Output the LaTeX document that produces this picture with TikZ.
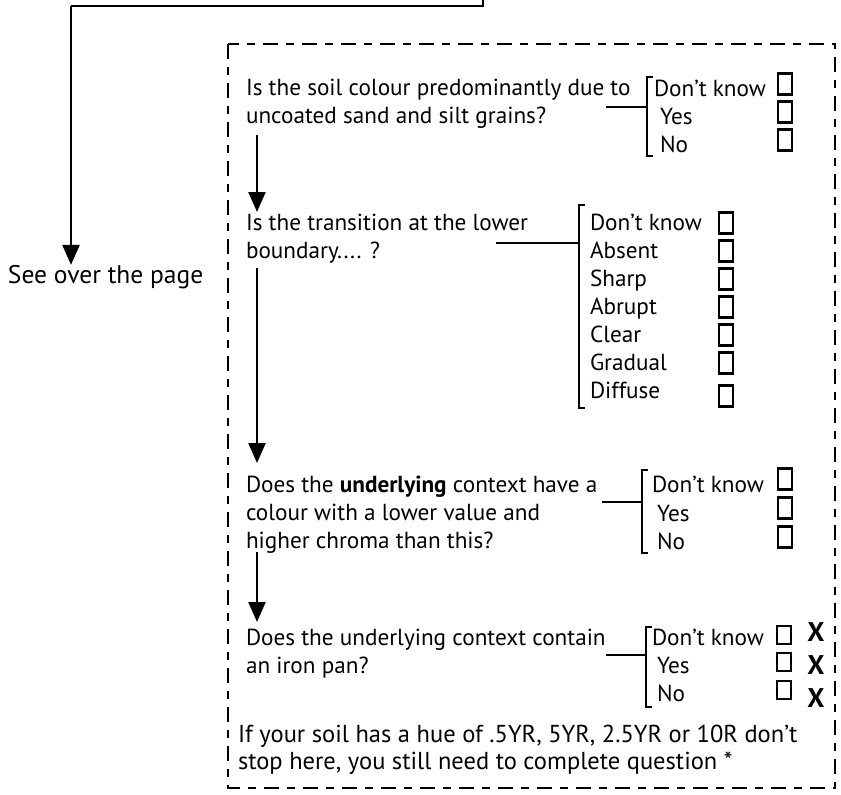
\documentclass[tikz,border=0pt]{standalone}
\usepackage{fontspec}
\setmainfont{PT Sans}
\usetikzlibrary{arrows.meta}
\begin{document}
\begin{tikzpicture}[x=1pt,y=-1pt,
  every node/.style={inner sep=0pt,outer sep=0pt},
  ln/.style={line width=2.3pt},
  arr/.style={line width=2.3pt,-{Triangle[width=17pt,length=20pt]}},
  qtext/.style={anchor=base west,align=left,font=\fontsize{23.2}{28}\selectfont},
  opttext/.style={anchor=base west,font=\fontsize{23.2}{28}\selectfont},
  foot/.style={anchor=base west,align=left,font=\fontsize{24.5}{27}\selectfont},
  cbox/.style={shape=rectangle,draw,line width=2.2pt,minimum width=14pt,minimum height=21pt},
  xmark/.style={font=\fontsize{27}{27}\selectfont\bfseries},
  dashbox/.style={line width=2.3pt,dash pattern=on 15pt off 8pt on 8pt off 8pt}]
\useasboundingbox (0,0) rectangle (841,795);

% outer return path
\coordinate (top1) at (483,0);
\coordinate (top2) at (483,6);
\coordinate (top3) at (71,6);
\node[anchor=base west,font=\fontsize{25.5}{28}\selectfont] (see) at (8,283) {See over the page};
\draw[ln] (top1) -- (top2) -- (top3);
\draw[arr] (top3) -- (see.north -| top3);

% dashed frame
\draw[dashbox] (228,44) rectangle (835,788);

% Q1
\node[qtext] (q1) at (246,123) {Is the soil colour predominantly due to\\uncoated sand and silt grains?};
\coordinate (c1a) at (606,107);
\coordinate (b1t) at (647,77);
\coordinate (b1b) at (647,156);
\draw[ln] (c1a) -- (b1t |- c1a);
\draw[ln] ([xshift=6pt]b1t) -- (b1t) -- (b1b) -- ([xshift=6pt]b1b);
\node[opttext] (o11) at (654,96) {Don’t know};
\node[opttext] (o12) at (660,124) {Yes};
\node[opttext] (o13) at (660,152) {No};
\node[cbox] (k11) at (785,84) {};
\node[cbox] (k12) at (785,112) {};
\node[cbox] (k13) at (785,140) {};

% Q2
\node[qtext] (q2) at (246,258) {Is the transition at the lower\\boundary.... ?};
\coordinate (c2a) at (496,243);
\coordinate (b2t) at (579,205);
\coordinate (b2b) at (579,408);
\draw[ln] (c2a) -- (b2t |- c2a);
\draw[ln] ([xshift=6pt]b2t) -- (b2t) -- (b2b) -- ([xshift=6pt]b2b);
\node[opttext] (o21) at (590,230) {Don’t know};
\node[opttext] (o22) at (590,258) {Absent};
\node[opttext] (o23) at (590,286) {Sharp};
\node[opttext] (o24) at (590,314) {Abrupt};
\node[opttext] (o25) at (590,342) {Clear};
\node[opttext] (o26) at (590,370) {Gradual};
\node[opttext] (o27) at (590,398) {Diffuse};
\foreach \i/\yy in {1/223,2/251,3/279,4/307,5/335,6/363,7/396}{
  \node[cbox] (k2\i) at (726,\yy) {};
}

% Q3
\node[qtext] (q3) at (246,548) {Does the \textbf{underlying} context have a\\colour with a lower value and\\higher chroma than this?};
\coordinate (c3a) at (602,502);
\coordinate (b3t) at (642,470);
\coordinate (b3b) at (642,553);
\draw[ln] (c3a) -- (b3t |- c3a);
\draw[ln] ([xshift=6pt]b3t) -- (b3t) -- (b3b) -- ([xshift=6pt]b3b);
\node[opttext] (o31) at (652,492) {Don’t know};
\node[opttext] (o32) at (657,521) {Yes};
\node[opttext] (o33) at (657,549) {No};
\node[cbox] (k31) at (785,479) {};
\node[cbox] (k32) at (785,508) {};
\node[cbox] (k33) at (785,537) {};

% Q4
\node[qtext] (q4) at (246,673) {Does the underlying context contain\\an iron pan?};
\coordinate (c4a) at (606,655);
\coordinate (b4t) at (646,627);
\coordinate (b4b) at (646,707);
\draw[ln] (c4a) -- (b4t |- c4a);
\draw[ln] ([xshift=6pt]b4t) -- (b4t) -- (b4b) -- ([xshift=6pt]b4b);
\node[opttext] (o41) at (652,645) {Don’t know};
\node[opttext] (o42) at (657,673) {Yes};
\node[opttext] (o43) at (657,701) {No};
\node[cbox,minimum height=18pt] (k41) at (784,635) {};
\node[cbox,minimum height=18pt] (k42) at (784,662) {};
\node[cbox,minimum height=18pt] (k43) at (784,690) {};
\node[xmark] (x1) at (816,632) {X};
\node[xmark] (x2) at (816,665) {X};
\node[xmark] (x3) at (816,698) {X};

% footer
\node[foot] (ft) at (238,769) {If your soil has a hue of .5YR, 5YR, 2.5YR or 10R don’t\\stop here, you still need to complete question *};

% flow arrows
\coordinate (a1s) at (257,135);
\coordinate (a1e) at (257,212);
\coordinate (a2s) at (257,268);
\coordinate (a2e) at (257,463);
\coordinate (a3s) at (257,552);
\coordinate (a3e) at (257,622);
\draw[arr] (a1s) -- (a1e);
\draw[arr] (a2s) -- (a2e);
\draw[arr] (a3s) -- (a3e);
\end{tikzpicture}
\end{document}
